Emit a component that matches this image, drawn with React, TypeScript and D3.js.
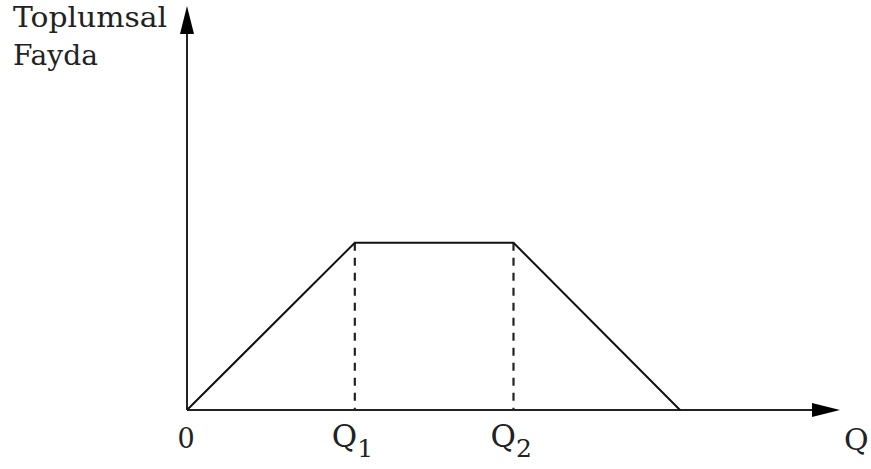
import React from 'react';
import * as d3 from 'd3';

// kink points of the social benefit curve (quantity, benefit)
const curveQ = [0, 25.7, 50, 75.5];
const curveU = [0, 41.4, 41.4, 0];
// dashed drop lines at Q1 and Q2
const dropQ = [25.7, 50];
const tickLabels = ['Q', 'Q'];
const tickSubs = ['1', '2'];
const yTitle = ['Toplumsal', 'Fayda'];

const W = 871;
const H = 469;
const FONT = '"DejaVu Serif", serif';

export default function App() {
  const x = d3.scaleLinear().domain([0, 100]).range([187, 840]);
  const y = d3.scaleLinear().domain([0, 100]).range([410, 6]);

  const pts: [number, number][] = curveQ.map((q, i) => [x(q), y(curveU[i])]);
  const line = d3.line();

  const x0 = x(0);
  const y0 = y(0);
  const xEnd = x.range()[1];
  const yTop = y.range()[1];

  return (
    <svg width={W} height={H} style={{ position: 'absolute', left: 0, top: 0, background: '#fff' }}>
      {/* axes */}
      <line x1={x0} y1={y0} x2={xEnd - 20} y2={y0} stroke="#222" strokeWidth={2} />
      <line x1={x0} y1={y0} x2={x0} y2={yTop + 20} stroke="#222" strokeWidth={2} />
      <path d={`M${xEnd},${y0} L${xEnd - 28},${y0 - 7} L${xEnd - 28},${y0 + 7} Z`} fill="#000" />
      <path d={`M${x0},${yTop} L${x0 - 7},${yTop + 28} L${x0 + 7},${yTop + 28} Z`} fill="#000" />

      {/* dashed drops */}
      {dropQ.map((q, i) => (
        <line key={i} x1={x(q)} y1={y(41.4)} x2={x(q)} y2={y0}
          stroke="#222" strokeWidth={2.2} strokeDasharray="8,7" />
      ))}

      {/* curve */}
      <path d={line(pts) || ''} fill="none" stroke="#111" strokeWidth={2} strokeLinejoin="miter" />

      {/* y title */}
      <text x={13} y={27} fontFamily={FONT} fontSize={28} fill="#222" textLength={154} lengthAdjust="spacingAndGlyphs">{yTitle[0]}</text>
      <text x={13} y={65} fontFamily={FONT} fontSize={28} fill="#222" textLength={85} lengthAdjust="spacingAndGlyphs">{yTitle[1]}</text>

      {/* x labels */}
      <text x={x0 - 1} y={448} textAnchor="middle" fontFamily={FONT} fontSize={27} fill="#222">0</text>
      {dropQ.map((q, i) => (
        <text key={i} x={x(q) - 23} y={447} fontFamily={FONT} fontSize={31} fill="#222">
          {tickLabels[i]}
          <tspan dy={10} fontSize={25}>{tickSubs[i]}</tspan>
        </text>
      ))}
      <text x={844} y={450} fontFamily={FONT} fontSize={30} fill="#222">Q</text>
    </svg>
  );
}
